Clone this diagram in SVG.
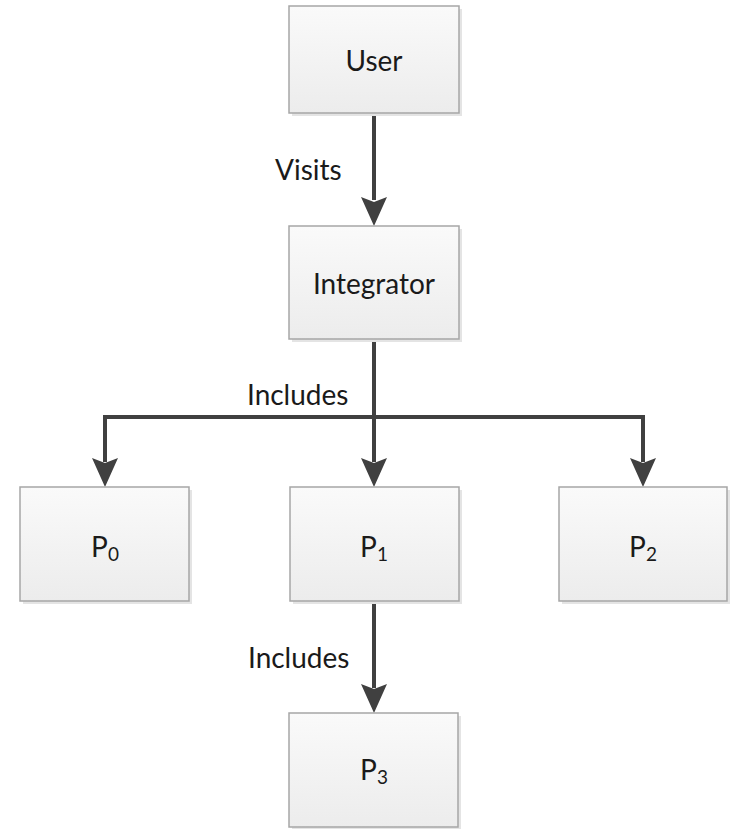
<svg xmlns="http://www.w3.org/2000/svg" width="732" height="829" viewBox="0 0 732 829">
<style>
.box{fill:url(#g);stroke:#a6a6a6;stroke-width:1.5}
.sh{fill:#e4e4e4}
.t{font-family:Lato,"Open Sans",sans-serif;font-size:28px;fill:#1a1a1a;text-anchor:middle}
.lbl{font-family:Lato,"Open Sans",sans-serif;font-size:28px;fill:#1a1a1a}
.sub{font-size:19px}
.c{fill:none;stroke:#404040;stroke-width:4}
.ah{fill:#404040}
</style>
<defs>
<linearGradient id="g" x1="0" y1="0" x2="0" y2="1">
<stop offset="0" stop-color="#fafafa"/>
<stop offset="1" stop-color="#ececec"/>
</linearGradient>
</defs>
<g id="connectors">
<line class="c" x1="374" y1="113" x2="374" y2="200"/>
<path class="ah" d="M361,197 L374,202 L387,197 L374,226 Z"/>
<line class="c" x1="374" y1="339" x2="374" y2="462"/>
<path class="ah" d="M361,458 L374,463 L387,458 L374,487 Z"/>
<polyline class="c" points="105,462 105,417 643,417 643,462"/>
<path class="ah" d="M92,458 L105,463 L118,458 L105,487 Z"/>
<path class="ah" d="M630,458 L643,463 L656,458 L643,487 Z"/>
<line class="c" x1="374" y1="601" x2="374" y2="688"/>
<path class="ah" d="M361,684 L374,689 L387,684 L374,713 Z"/>
<text class="lbl" x="275" y="180">Visits</text>
<text class="lbl" x="247" y="405">Includes</text>
<text class="lbl" x="248" y="668">Includes</text>
</g>
<g id="user">
<rect class="sh" x="292" y="9" width="170" height="107"/>
<rect class="box" x="289" y="6" width="170" height="107"/>
<text class="t" x="374" y="71">User</text>
</g>
<g id="integrator">
<rect class="sh" x="292" y="229" width="170" height="113"/>
<rect class="box" x="289" y="226" width="170" height="113"/>
<text class="t" x="374" y="294">Integrator</text>
</g>
<g id="p0">
<rect class="sh" x="23" y="490" width="169" height="114"/>
<rect class="box" x="20" y="487" width="169" height="114"/>
<text class="t" x="105" y="557">P<tspan class="sub" dy="4">0</tspan></text>
</g>
<g id="p1">
<rect class="sh" x="293" y="490" width="169" height="114"/>
<rect class="box" x="290" y="487" width="169" height="114"/>
<text class="t" x="374" y="557">P<tspan class="sub" dy="4">1</tspan></text>
</g>
<g id="p2">
<rect class="sh" x="562" y="490" width="168" height="114"/>
<rect class="box" x="559" y="487" width="168" height="114"/>
<text class="t" x="643" y="557">P<tspan class="sub" dy="4">2</tspan></text>
</g>
<g id="p3">
<rect class="sh" x="292" y="716" width="169" height="113"/>
<rect class="box" x="289" y="713" width="169" height="114"/>
<text class="t" x="374" y="780">P<tspan class="sub" dy="4">3</tspan></text>
</g>
</svg>
